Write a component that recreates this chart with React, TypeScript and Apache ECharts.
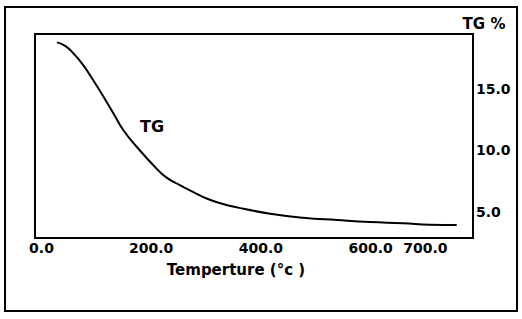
import React, { useEffect, useRef } from "react";
import * as echarts from "echarts";

const temperature = [28, 43, 58, 76, 94, 113, 131, 149, 174, 207, 228, 253, 277, 301, 329, 356, 417, 477, 539, 599, 659, 708, 757];
const tgPercent = [18.78, 18.5, 17.89, 16.93, 15.72, 14.36, 13.01, 11.65, 10.27, 8.64, 7.78, 7.15, 6.6, 6.08, 5.66, 5.36, 4.85, 4.52, 4.33, 4.17, 4.07, 3.95, 3.92];
const xTicks = [0, 200, 400, 600, 700];
const yTicks = [5, 10, 15];

const FONT = "DejaVu Sans";

export default function App() {
  const ref = useRef<HTMLDivElement>(null);
  useEffect(() => {
    if (!ref.current) return;
    const chart = echarts.init(ref.current, null, { renderer: "svg" });
    chart.setOption({
      animation: false,
      backgroundColor: "#ffffff",
      grid: {
        left: 35,
        top: 34,
        right: 49,
        bottom: 81,
        show: true,
        borderColor: "#000",
        borderWidth: 2,
        backgroundColor: "transparent",
      },
      xAxis: {
        type: "value",
        min: -11.9,
        max: 786.7,
        axisLine: { show: true, onZero: false, lineStyle: { color: "#000", width: 2 } },
        axisTick: { show: false },
        splitLine: { show: false },
        axisLabel: {
          customValues: xTicks,
          formatter: (v: number) => v.toFixed(1),
          color: "#000",
          fontFamily: FONT,
          fontWeight: "bold",
          fontSize: 14,
          margin: 3,
        },
      },
      yAxis: {
        type: "value",
        position: "right",
        min: 2.87,
        max: 19.46,
        axisLine: { show: true, onZero: false, lineStyle: { color: "#000", width: 2 } },
        axisTick: { show: false },
        splitLine: { show: false },
        axisLabel: {
          customValues: yTicks,
          formatter: (v: number) => v.toFixed(1),
          color: "#000",
          fontFamily: FONT,
          fontWeight: "bold",
          fontSize: 14,
          margin: 3,
        },
      },
      series: [
        {
          type: "line",
          data: temperature.map((t, i) => [t, tgPercent[i]]),
          smooth: 0.5,
          showSymbol: false,
          lineStyle: { color: "#000", width: 2 },
        },
      ],
      graphic: [
        {
          type: "rect",
          shape: { x: 5, y: 7, width: 512, height: 304 },
          style: { fill: "none", stroke: "#000", lineWidth: 2 },
          silent: true,
        },
        {
          type: "text",
          x: 236,
          y: 270,
          style: {
            text: "Temperture (°c )",
            fill: "#000",
            font: `bold 15px "${FONT}"`,
            align: "center",
            verticalAlign: "middle",
          },
        },
        {
          type: "text",
          x: 484,
          y: 24,
          style: {
            text: "TG %",
            fill: "#000",
            font: `bold 15px "${FONT}"`,
            align: "center",
            verticalAlign: "middle",
          },
        },
        {
          type: "text",
          x: 152,
          y: 126,
          style: {
            text: "TG",
            fill: "#000",
            font: `bold 16px "${FONT}"`,
            align: "center",
            verticalAlign: "middle",
          },
        },
      ],
    });
    return () => chart.dispose();
  }, []);
  return (
    <div
      ref={ref}
      style={{ position: "fixed", left: 0, top: 0, width: 522, height: 319, background: "#fff" }}
    />
  );
}
